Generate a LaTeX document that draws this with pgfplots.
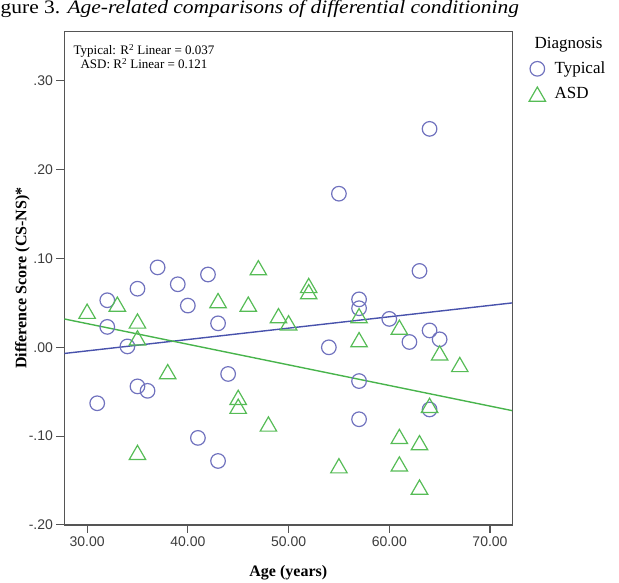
\documentclass[border=0pt]{standalone}
\usepackage{fontspec}
\setmainfont{Liberation Serif}
\newfontfamily\ticksans{Liberation Sans}
\usepackage{pgfplots}
\pgfplotsset{compat=1.18}

\definecolor{typcirc}{RGB}{112,114,190}
\definecolor{typline}{RGB}{72,82,172}
\definecolor{asdtri}{RGB}{86,188,86}
\definecolor{asdline}{RGB}{72,180,76}
\definecolor{framecol}{RGB}{85,85,85}
\definecolor{ticktext}{RGB}{60,60,60}

% Difference score against age, one table per diagnosis group
\pgfplotstableread{
age  score
31  -0.063
32   0.053
32   0.023
34   0.001
35   0.066
35  -0.044
36  -0.049
37   0.090
39   0.071
40   0.047
41  -0.102
42   0.082
43   0.027
43  -0.128
44  -0.030
54   0.000
55   0.173
57   0.054
57   0.044
57  -0.038
57  -0.081
60   0.032
62   0.006
63   0.086
64   0.246
64   0.019
64  -0.070
65   0.009
}\typical

\pgfplotstableread{
age  score
30   0.041
33   0.049
35   0.030
35   0.011
35  -0.118
38  -0.027
43   0.053
45  -0.056
45  -0.066
46   0.049
47   0.090
48  -0.086
49   0.036
50   0.028
52   0.070
52   0.063
55  -0.133
57   0.036
57   0.009
61   0.023
61  -0.100
61  -0.131
63  -0.107
63  -0.157
64  -0.065
65  -0.006
67  -0.019
}\asd

\begin{document}
\begin{tikzpicture}[x=1pt,y=1pt]
\begin{axis}[
  at={(64,64.3)}, anchor=south west,
  scale only axis, width=447.7pt, height=493.7pt,
  xmin=27.75, xmax=72.2, ymin=-0.20, ymax=0.356,
  axis line style={framecol, line width=1.3pt},
  xtick={30,40,50,60,70},
  xticklabels={30.00,40.00,50.00,60.00,70.00},
  ytick={-0.2,-0.1,0,0.1,0.2,0.3},
  yticklabels={-.20,-.10,.00,.10,.20,.30},
  tick align=outside, tick pos=left, major tick length=8pt,
  tick style={framecol, line width=1.1pt},
  ticklabel style={font=\ticksans\fontsize{14}{14}\selectfont, text=ticktext},
  xlabel={Age (years)},
  ylabel={Difference Score (CS-NS)*},
  label style={font=\bfseries\fontsize{16}{16}\selectfont},
  xlabel style={at={(axis description cs:0.5,-0.096)}, anchor=center},
  ylabel style={at={(axis description cs:-0.094,0.5)}, anchor=center},
  legend style={at={(axis description cs:1.03,1)}, anchor=north west,
    yshift=-2pt, draw=none, fill=none,
    font=\fontsize{17}{17}\selectfont, row sep=8pt,
    /tikz/every odd column/.append style={column sep=7pt}},
  legend cell align=left,
]
% fit lines
\addplot[typline, line width=1.4pt, forget plot] coordinates {(27.75,-0.0069) (72.2,0.0500)};
\addplot[asdline, line width=1.4pt, forget plot] coordinates {(27.75,0.0319) (72.2,-0.0713)};

\addlegendimage{empty legend}
\addlegendentry{\hspace*{-20pt}Diagnosis}

\addplot[only marks, mark=o, draw=typcirc, mark size=7.3pt, line width=1.2pt]
  table[x=age, y=score] {\typical};
\addlegendentry{Typical}

\addplot[only marks, mark=triangle, draw=asdtri, mark size=9.5pt, line width=1.2pt,
  mark options={yshift=-2.7pt}]
  table[x=age, y=score] {\asd};
\addlegendentry{ASD}
\end{axis}

\node[anchor=base west, inner sep=0pt, xscale=1.13, font=\fontsize{19}{19}\selectfont]
  at (0.5,568) {gure 3. \textit{Age-related comparisons of differential conditioning}};
\node[align=center, inner sep=0pt, font=\fontsize{13}{13}\selectfont]
  at (144,525.5) {Typical: R\textsuperscript{2} Linear = 0.037\\ASD: R\textsuperscript{2} Linear = 0.121};

\pgfresetboundingbox
\useasboundingbox (0,0) rectangle (619,582);
\end{tikzpicture}
\end{document}
